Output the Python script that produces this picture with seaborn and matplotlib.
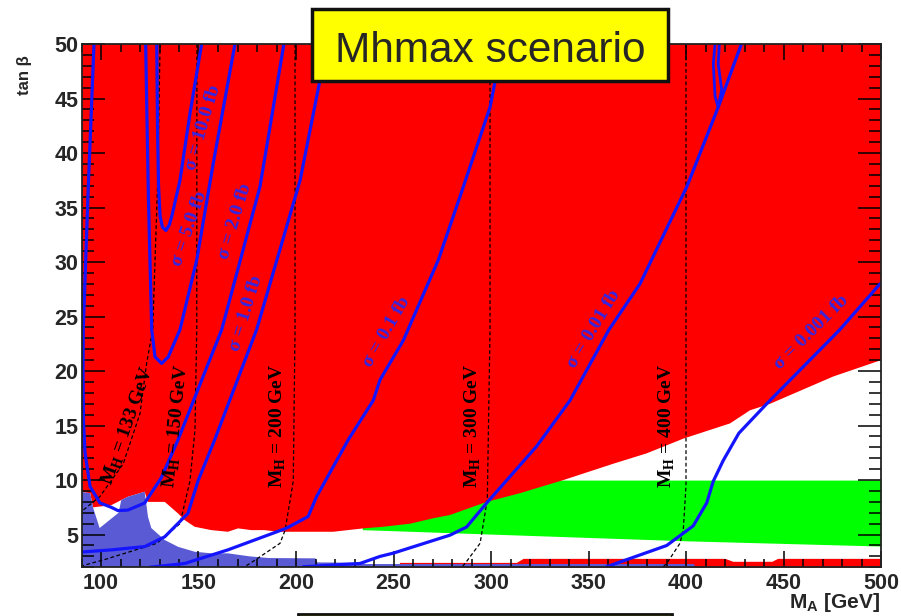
import numpy as np
import matplotlib
matplotlib.use("Agg")
import matplotlib.pyplot as plt
import seaborn as sns
from matplotlib.patches import Rectangle

# ---------------- data (M_A [GeV], tan beta) ----------------
red_low_x = [90, 94.5, 95.9, 105.3, 110.4, 113.8, 122.4, 124.1, 132.7, 139.5, 142.9, 148, 156.6,
             165.1, 170.3, 177.1, 183.9, 190.8, 206.2, 219.1, 234.5, 244.8, 258.5, 270.4, 279,
             297.8, 314.9, 337.1, 362.7, 379.8, 398.6, 422.6, 432.8, 443.1, 475.5, 500]
red_low_y = [8.9, 8.8, 7.5, 7.7, 8.17, 8.47, 8.93, 8.0, 8.0, 6.94, 6.33, 5.72, 5.41,
             5.26, 5.57, 5.41, 5.41, 5.26, 5.26, 5.26, 5.57, 5.72, 6.0, 6.5, 6.8,
             8.0, 8.8, 10.0, 11.5, 12.45, 13.8, 15.2, 16.4, 17.0, 19.5, 21.0]

green_x = [234, 243, 280, 400, 500]
green_low = [5.45, 5.4, 5.17, 4.43, 3.95]
green_high = [10.0, 10.0, 10.0, 10.0, 10.0]

strip_x = [253, 313, 316.5, 420, 424, 444, 447, 500]
strip_top = [2.45, 2.45, 2.82, 2.82, 2.55, 2.55, 2.82, 2.82]

blue_x = [90, 94.5, 95.9, 99.3, 109, 110.4, 113.8, 122.4, 124.1, 125.8, 132.7, 139.5, 148,
          156.6, 165.1, 176.4, 186, 210, 211, 233, 236, 404, 405]
blue_y = [8.9, 8.8, 7.5, 5.6, 7.0, 8.17, 8.47, 8.93, 6.63, 5.6, 4.5, 3.88, 3.43,
          3.28, 3.28, 3.0, 2.85, 2.82, 2.45, 2.42, 2.3, 2.3, 2.0]

# cross-section contours
sig_curves = {
    "10.0": ([128.6, 129.0, 129.5, 130.3, 131.5, 133.3, 135.0, 136.3, 140.5, 145.6, 151.6],
             [50, 42, 37, 34.2, 33.2, 32.9, 33.4, 34.2, 37.5, 43.6, 50]),
    "5.0": ([122.9, 124.3, 126.0, 127.7, 131.1, 134.5, 140.5, 149.1, 157.6, 168.7],
            [50, 36.0, 23.8, 21.3, 20.7, 21.3, 23.8, 30.2, 39.1, 50]),
    "2.0": ([96.4, 93.5, 90.9, 90.8, 91.0, 91.8, 94.4, 99.5, 105.3, 108.7, 113.8, 122.4, 130.9,
             139.5, 161.9, 181.5, 193.8],
            [50, 37, 23.8, 20, 15.5, 12.5, 9.4, 7.9, 7.5, 7.2, 7.25, 7.9, 10.2,
             13.7, 23.8, 36.9, 50]),
    "1.0": ([90, 105.3, 122.4, 132.7, 144.6, 149.7, 158.3, 179.8, 202.1, 212.3, 213.5],
            [3.4, 3.6, 3.9, 4.8, 6.95, 9.9, 13.7, 23.8, 37.5, 46.7, 50]),
    "0.1": ([125.0, 142.9, 165.1, 190.8, 195.2, 206.2, 210.6, 226.8, 239.6, 243.1, 255, 273,
             284.1, 299.5, 302.9, 304.6],
            [2.0, 2.35, 3.6, 5.3, 5.6, 6.65, 8.5, 13.7, 17.3, 19.2, 22.8, 30.2,
             36.0, 44.2, 47.3, 50]),
    "0.01": ([203.7, 232.8, 243.1, 249.9, 279, 287.5, 297.8, 323.4, 340.5, 360.5, 376.4, 400.4,
              416.5, 428.4],
             [2.05, 2.35, 3.0, 3.3, 4.95, 5.7, 7.9, 13.1, 17.3, 23.8, 28.0, 36.9,
              44.2, 50]),
    "0.001": ([359.3, 390.1, 396.9, 403.7, 410.6, 414.0, 419.1, 427.1, 441.4, 478.9, 499.5],
              [2.05, 4.0, 4.9, 5.8, 7.9, 9.9, 11.8, 14.3, 17.0, 23.8, 28.0]),
}
loop_x = [414.9, 414.0, 414.9, 416.5, 418.3, 416.5, 417.1]
loop_y = [50, 48.2, 45.2, 44.2, 45.8, 48.2, 50]

sig_label_text = ["σ = 10.0 fb", "σ = 5.0 fb", "σ = 2.0 fb", "σ = 1.0 fb",
                  "σ = 0.1 fb", "σ = 0.01 fb", "σ = 0.001 fb"]
sig_label_x = [152.5, 145.6, 168.7, 174.3, 246.4, 352.5, 464.5]
sig_label_y = [42.3, 33.1, 33.7, 25.3, 23.6, 23.9, 23.6]
sig_label_rot = [73.5, 71, 73, 73, 60, 59, 45]

# heavy Higgs mass contours
mh_curves = {
    "133": ([130.3, 129.0, 126.5, 123.4, 120.0, 111.4, 99.5, 90.9],
            [50, 37, 23.8, 20.7, 16.1, 11.5, 8.5, 7.25]),
    "150": ([149.2, 149.1, 148.2, 145.6, 140.5, 128.6, 101.0, 94.4, 90.0],
            [50, 23.8, 14.6, 9.9, 6.0, 4.2, 2.66, 2.35, 2.1]),
    "200": ([199.5, 199.5, 198.6, 194.4, 191.8, 176.4, 173.0],
            [50, 23.8, 9.9, 5.4, 4.2, 2.35, 2.0]),
    "300": ([299.5, 299.5, 298.1, 294.4, 286.7, 285.0],
            [50, 23.8, 8.2, 4.2, 2.35, 2.0]),
    "400": ([400.0, 400.0, 398.6, 396.9, 390.1, 388.0],
            [50, 9.5, 5.4, 4.2, 2.35, 2.0]),
}
mh_label_mass = ["133", "150", "200", "300", "400"]
mh_label_x = [114.0, 138.8, 190.9, 290.9, 390.1]
mh_label_y = [15.0, 15.0, 15.0, 15.0, 15.0]
mh_label_rot = [70.5, 84, 90, 90, 90]

x_major = [100, 150, 200, 250, 300, 350, 400, 450, 500]
y_major = [5, 10, 15, 20, 25, 30, 35, 40, 45, 50]

# ---------------- style ----------------
sns.set_style("white")
plt.rcParams["font.family"] = ["Liberation Sans", "DejaVu Sans"]
plt.rcParams["font.weight"] = "bold"
plt.rcParams["axes.axisbelow"] = False
plt.rcParams["mathtext.fontset"] = "custom"
plt.rcParams["mathtext.bf"] = "Liberation Serif:bold"
plt.rcParams["mathtext.rm"] = "Liberation Serif:bold"
plt.rcParams["mathtext.sf"] = "Liberation Sans:bold"

RED = "#ff0000"
GREEN = "#00ff00"
VIOLET = "#5a5ad4"
LINE_BLUE = "#1414ff"
LABEL_BLUE = "#3226e6"

fig = plt.figure(figsize=(9.01, 6.16), dpi=100)
ax = fig.add_axes([81.5 / 901, 1 - 567.3 / 616, (881 - 81.5) / 901, (567.3 - 44) / 616])
ax.set_xlim(90, 500)
ax.set_ylim(2, 50)
ax.set_facecolor("white")
ax.set_axisbelow(False)

# regions
ax.fill_between(green_x, green_low, green_high, color=GREEN, lw=0, zorder=1)
ax.fill(list(red_low_x) + [500, 90], list(red_low_y) + [50, 50], color=RED, lw=0, zorder=1.1)
ax.fill_between(strip_x, 2.0, strip_top, color=RED, lw=0, zorder=1.2)
ax.fill(list(blue_x) + [90], list(blue_y) + [2.0], color=VIOLET, lw=0, zorder=1.3)

# dashed MH contours
for key, (xs, ys) in mh_curves.items():
    sns.lineplot(x=xs, y=ys, sort=False, estimator=None, color="black", lw=0.9,
                 linestyle=(0, (3, 2)), ax=ax, zorder=2)

# sigma contours
for key, (xs, ys) in sig_curves.items():
    sns.lineplot(x=xs, y=ys, sort=False, estimator=None, color=LINE_BLUE, lw=2.3,
                 ax=ax, zorder=3)
sns.lineplot(x=loop_x, y=loop_y, sort=False, estimator=None, color=LINE_BLUE, lw=2.0,
             ax=ax, zorder=3)

for s, x, y, r in zip(sig_label_text, sig_label_x, sig_label_y, sig_label_rot):
    ax.text(x, y, s, rotation=r, rotation_mode="anchor", ha="center", va="center",
            family="Liberation Serif", weight="bold", color=LABEL_BLUE, fontsize=14, zorder=4)

for m, x, y, r in zip(mh_label_mass, mh_label_x, mh_label_y, mh_label_rot):
    ax.text(x, y, r"$\mathbf{M}_{\mathbf{H}}$" + " = " + m + " GeV", rotation=r,
            rotation_mode="anchor", ha="center", va="center",
            family="Liberation Serif", weight="bold", color="black", fontsize=14, zorder=4)

# axes / ticks
ax.set_xticks(x_major)
ax.set_yticks(y_major)
ax.set_xticks(np.arange(90, 501, 10), minor=True)
ax.set_yticks(np.arange(2, 51, 1), minor=True)
ax.xaxis.set_ticks_position("both")
ax.yaxis.set_ticks_position("both")
ax.tick_params(which="both", direction="in", top=True, right=True, bottom=True, left=True,
               labeltop=False, labelright=False, labelbottom=True, labelleft=True,
               color="black", width=1.1)
ax.tick_params(axis="y", which="major", length=16.5, pad=2, labelsize=15.5)
ax.tick_params(axis="y", which="minor", length=8.5)
ax.tick_params(axis="x", which="major", length=11.5, pad=4, labelsize=15.5)
ax.tick_params(axis="x", which="minor", length=5.8)
for lab in ax.get_xticklabels() + ax.get_yticklabels():
    lab.set_fontweight("bold")
ax.set_xlabel("")
ax.set_ylabel("")
for sp in ax.spines.values():
    sp.set_color("#222222")
    sp.set_linewidth(1.3)
    sp.set_zorder(5)

fig.text(24 / 901, 1 - 75.5 / 616, "tan β", rotation=90, ha="center", va="center",
         fontsize=12, weight="bold")
fig.text(880 / 901, 1 - 608 / 616, r"$\mathsf{M}_{\mathsf{A}}$ [GeV]", ha="right",
         va="baseline", fontsize=15, weight="bold")

# title box
fig.patches.append(Rectangle((312 / 901, 1 - 81 / 616), 356 / 901, 72 / 616,
                             transform=fig.transFigure, facecolor="#ffff00",
                             edgecolor="#111111", lw=2.5, zorder=10))
fig.text(490 / 901, 1 - 62 / 616, "Mhmax scenario", ha="center", va="baseline",
         fontsize=30.5, weight="normal", zorder=11)
# bottom (cut-off) box
fig.patches.append(Rectangle((298 / 901, -0.1), 374 / 901, 0.1 + (616 - 614.3) / 616,
                             transform=fig.transFigure, facecolor="#ffff00",
                             edgecolor="#111111", lw=2.0, zorder=10))

fig.savefig("out.png", dpi=100)
